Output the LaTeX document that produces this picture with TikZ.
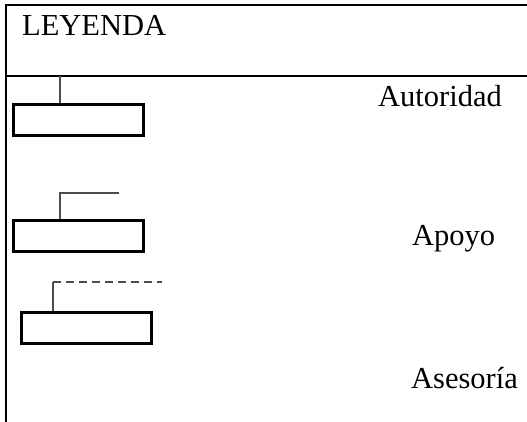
\documentclass[tikz,border=0pt]{standalone}
\usepackage{fontspec}
\setmainfont{Liberation Serif}
\usetikzlibrary{positioning,calc}
\definecolor{ink}{HTML}{000000}
\definecolor{wire}{HTML}{4D4D4D}
\tikzset{frame/.style={draw=ink,line width=2.2pt},unit/.style={draw=ink,line width=2.8pt,minimum width=130pt,minimum height=31pt,inner sep=0pt},link/.style={draw=wire,line width=1.2pt},lbl/.style={font=\fontsize{30.5}{32}\selectfont,inner sep=0pt,anchor=base west}}

\begin{document}
\begin{tikzpicture}[x=1pt,y=-1pt]
\useasboundingbox (0,0) rectangle (527,421);
\coordinate (tl) at (6,5);\coordinate (tr) at (528,5);\coordinate (ml) at (6,76);\coordinate (mr) at (528,76);\coordinate (bl) at (6,422);
\draw[frame] (tr)--(tl)--(bl);\draw[frame,line width=1.6pt] (ml)--(mr);
\node[lbl] (t) at (22,35) {LEYENDA};
% autoridad
\node[unit,anchor=north west] (b1) at (12,103) {};
\coordinate (c1) at ($(b1.north west)+(48,-27)$);
\draw[link] (c1)--(c1|-b1.north);
\node[lbl] (l1) at (378,106) {Autoridad};
% apoyo
\node[unit,anchor=north west] (b2) at (12,219) {};
\coordinate (c2) at ($(b2.north west)+(48,-26)$);\coordinate (e2) at (119,193);
\draw[link] (e2)--(c2)--(c2|-b2.north);
\node[lbl] (l2) at (412,245) {Apoyo};
% asesoria
\node[unit,anchor=north west] (b3) at (20,311) {};
\coordinate (c3) at ($(b3.north west)+(33,-29)$);\coordinate (e3) at (162,282);
\draw[link] (c3|-b3.north)--(c3);\draw[link,dash pattern=on 8pt off 5pt] (c3)--(e3);
\node[lbl] (l3) at (411,388) {Asesoría};
\end{tikzpicture}
\end{document}
